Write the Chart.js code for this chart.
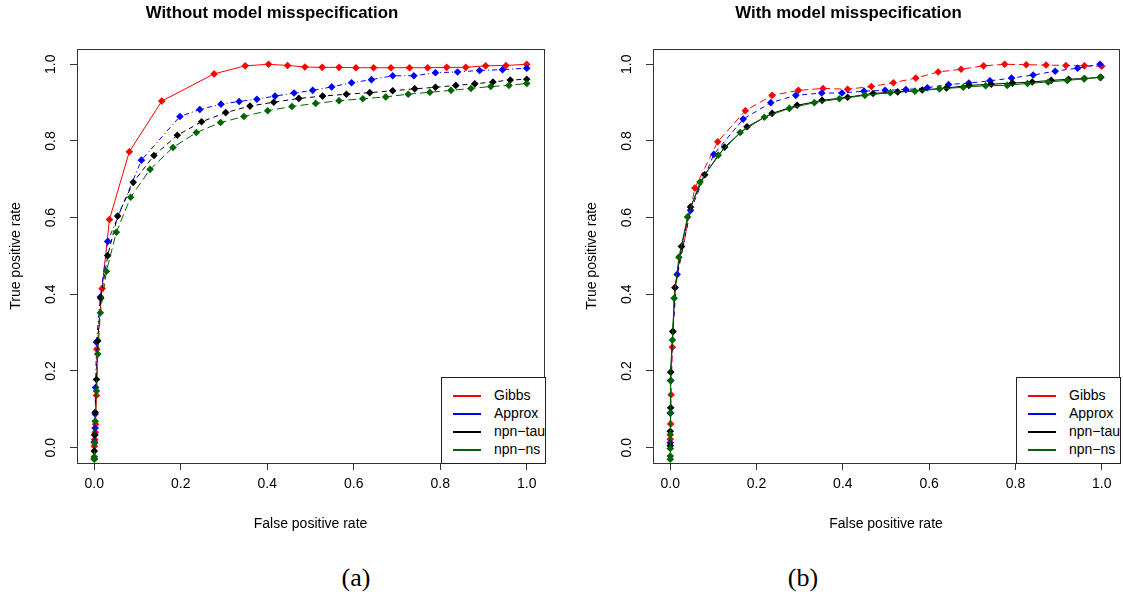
<!DOCTYPE html>
<html>
<head>
<meta charset="utf-8">
<script src="https://cdn.jsdelivr.net/npm/chart.js@4.4.1/dist/chart.umd.min.js"></script>
<style>
  body { margin: 0; background: #fff; width: 1123px; height: 596px; overflow: hidden; position: relative;
         font-family: "Liberation Sans", Arial, sans-serif; }
  canvas { position: absolute; top: 0; }
  #chartA { left: 0; }
  #chartB { left: 576px; }
  .legend { position: absolute; top: 377px; width: 103px; height: 85px; border: 1px solid #222;
            background: #fff; overflow: hidden; }
  .row { position: absolute; left: 11px; height: 18px; line-height: 18px; font-size: 14px; white-space: nowrap; color: #000; }
  .row i { display: inline-block; width: 28px; height: 2px; vertical-align: middle; margin-right: 13px; }
  .cap { position: absolute; top: 563px; width: 60px; text-align: center;
         font-family: "Liberation Serif", "DejaVu Serif", serif; font-size: 26px; color: #000; }
</style>
</head>
<body>
<canvas id="chartA" width="560" height="545"></canvas>
<canvas id="chartB" width="547" height="545"></canvas>
<div id="legA" class="legend" style="left:441px"></div>
<div id="legB" class="legend" style="left:1016px"></div>
<div class="cap" style="left:326px">(a)</div>
<div class="cap" style="left:773px">(b)</div>
<script>
const xTicks = [0, 0.2, 0.4, 0.6, 0.8, 1.0]
const yTicks = [0, 0.2, 0.4, 0.6, 0.8, 1.0]
const seriesNames = ['Gibbs', 'Approx', 'npn\u2212tau', 'npn\u2212ns']
const colors = ['#ff0000', '#0000ff', '#000000', '#006400']

// (a) without model misspecification
const fprA_gibbs = [0, 0.001, 0.002, 0.003, 0.005, 0.006, 0.018, 0.035, 0.081, 0.156, 0.277, 0.349, 0.403, 0.447, 0.487, 0.527, 0.566, 0.605, 0.646, 0.686, 0.729, 0.771, 0.815, 0.859, 0.905, 0.952, 1.0]
const tprA_gibbs = [0.004, 0.021, 0.040, 0.061, 0.136, 0.257, 0.415, 0.595, 0.772, 0.904, 0.975, 0.996, 1.0, 0.997, 0.993, 0.992, 0.992, 0.991, 0.991, 0.991, 0.991, 0.991, 0.992, 0.992, 0.996, 0.997, 1.0]
const fprA_approx = [0, 0.001, 0.002, 0.002, 0.003, 0.005, 0.014, 0.031, 0.109, 0.198, 0.244, 0.293, 0.335, 0.376, 0.418, 0.462, 0.505, 0.549, 0.595, 0.641, 0.69, 0.739, 0.789, 0.84, 0.891, 0.944, 1.0]
const tprA_approx = [0.015, 0.034, 0.051, 0.088, 0.157, 0.275, 0.393, 0.538, 0.75, 0.864, 0.882, 0.896, 0.903, 0.909, 0.917, 0.925, 0.932, 0.941, 0.952, 0.96, 0.97, 0.97, 0.978, 0.98, 0.984, 0.986, 0.99]
const fprA_tau = [0, 0, 0.001, 0.002, 0.005, 0.008, 0.015, 0.031, 0.054, 0.09, 0.138, 0.192, 0.248, 0.304, 0.36, 0.415, 0.473, 0.528, 0.583, 0.637, 0.69, 0.741, 0.789, 0.836, 0.88, 0.922, 0.962, 1.0]
const tprA_tau = [-0.029, -0.009, 0.033, 0.092, 0.178, 0.279, 0.39, 0.501, 0.604, 0.692, 0.762, 0.815, 0.85, 0.874, 0.891, 0.901, 0.911, 0.917, 0.922, 0.926, 0.931, 0.936, 0.94, 0.945, 0.949, 0.954, 0.959, 0.961]
const fprA_ns = [0, 0, 0.001, 0.002, 0.005, 0.008, 0.014, 0.028, 0.051, 0.084, 0.129, 0.182, 0.236, 0.292, 0.346, 0.401, 0.457, 0.512, 0.566, 0.621, 0.674, 0.726, 0.776, 0.825, 0.871, 0.917, 0.959, 1.0]
const tprA_ns = [-0.03, -0.024, 0.012, 0.069, 0.148, 0.244, 0.352, 0.46, 0.562, 0.653, 0.726, 0.783, 0.822, 0.848, 0.864, 0.879, 0.89, 0.898, 0.905, 0.91, 0.915, 0.922, 0.927, 0.932, 0.937, 0.942, 0.945, 0.95]

// (b) with model misspecification
const fprB_gibbs = [0, 0.001, 0.002, 0.005, 0.011, 0.057, 0.11, 0.174, 0.236, 0.297, 0.354, 0.411, 0.466, 0.517, 0.569, 0.621, 0.674, 0.726, 0.775, 0.825, 0.871, 0.917, 0.96, 1.0]
const tprB_gibbs = [0.022, 0.062, 0.138, 0.262, 0.418, 0.677, 0.798, 0.879, 0.919, 0.932, 0.937, 0.935, 0.942, 0.952, 0.964, 0.98, 0.987, 0.996, 1.0, 0.999, 0.998, 0.997, 0.996, 0.995]
const fprB_approx = [0, 0, 0.001, 0.006, 0.016, 0.047, 0.101, 0.169, 0.233, 0.291, 0.351, 0.398, 0.449, 0.498, 0.546, 0.596, 0.645, 0.692, 0.741, 0.791, 0.841, 0.892, 0.944, 0.996]
const tprB_approx = [0.013, 0.09, 0.175, 0.303, 0.452, 0.619, 0.765, 0.857, 0.9, 0.919, 0.925, 0.925, 0.93, 0.932, 0.934, 0.939, 0.947, 0.951, 0.957, 0.964, 0.972, 0.982, 0.99, 1.0]
const fprB_tau = [0, 0, 0.001, 0.001, 0.006, 0.011, 0.026, 0.047, 0.08, 0.126, 0.178, 0.236, 0.294, 0.352, 0.411, 0.47, 0.527, 0.584, 0.64, 0.692, 0.744, 0.793, 0.839, 0.883, 0.923, 0.96, 0.998]
const tprB_tau = [0.005, 0.043, 0.104, 0.197, 0.303, 0.417, 0.525, 0.628, 0.712, 0.784, 0.837, 0.872, 0.893, 0.906, 0.914, 0.924, 0.928, 0.933, 0.938, 0.945, 0.948, 0.951, 0.954, 0.958, 0.961, 0.963, 0.966]
const fprB_ns = [0, 0, 0, 0, 0.001, 0.001, 0.005, 0.009, 0.02, 0.04, 0.069, 0.111, 0.162, 0.218, 0.276, 0.334, 0.392, 0.451, 0.51, 0.567, 0.624, 0.679, 0.731, 0.781, 0.828, 0.876, 0.92, 0.959, 0.996]
const tprB_ns = [-0.03, -0.022, -0.002, 0.034, 0.091, 0.175, 0.281, 0.39, 0.497, 0.602, 0.693, 0.763, 0.822, 0.862, 0.885, 0.9, 0.91, 0.919, 0.926, 0.93, 0.936, 0.94, 0.944, 0.945, 0.95, 0.954, 0.958, 0.962, 0.966]

const FONT = '"Liberation Sans", Arial, sans-serif'

const toPoints = (xs, ys) => xs.map((x, i) => ({ x: x, y: ys[i] }))

// draw the R style box round the plot region
const plotBox = {
  id: 'plotBox',
  afterDraw(chart) {
    const { ctx, chartArea: a } = chart
    ctx.save()
    ctx.strokeStyle = '#333'
    ctx.lineWidth = 1
    ctx.strokeRect(Math.round(a.left) + 0.5, Math.round(a.top) + 0.5,
      Math.round(a.right - a.left), Math.round(a.bottom - a.top))
    ctx.restore()
  }
}

function makeChart(id, title, series, dashes, padRight) {
  const datasets = series.map((s, i) => ({
    label: seriesNames[i],
    data: toPoints(s[0], s[1]),
    showLine: true,
    borderColor: colors[i],
    backgroundColor: colors[i],
    borderWidth: 1,
    borderDash: dashes[i],
    pointStyle: 'rectRot',
    pointRadius: 3.8,
    pointBorderWidth: 0,
    order: 4 - i,
  }))

  return new Chart(document.getElementById(id), {
    type: 'scatter',
    data: { datasets },
    options: {
      responsive: false,
      animation: false,
      devicePixelRatio: 1,
      layout: { padding: { left: 0, top: 0, right: padRight, bottom: 0 } },
      plugins: {
        legend: { display: false },
        tooltip: { enabled: false },
        title: {
          display: true,
          text: title,
          color: '#000',
          font: { family: FONT, size: 16.8, weight: 'bold' },
          padding: { top: 3.4, bottom: 25.4 }
        }
      },
      scales: {
        x: {
          type: 'linear',
          min: -0.04,
          max: 1.04,
          afterBuildTicks: s => { s.ticks = xTicks.map(v => ({ value: v })) },
          afterFit: s => { s.height = 82 },
          grid: { drawOnChartArea: false, tickLength: 7, color: '#333' },
          border: { display: false },
          ticks: { color: '#000', font: { family: FONT, size: 14 }, padding: 6, callback: v => v.toFixed(1) },
          title: {
            display: true, text: 'False positive rate', color: '#000',
            font: { family: FONT, size: 14 }, padding: { top: 0, bottom: 12 }
          }
        },
        y: {
          type: 'linear',
          min: -0.04,
          max: 1.04,
          afterBuildTicks: s => { s.ticks = yTicks.map(v => ({ value: v })) },
          afterFit: s => { s.width = 77 },
          grid: { drawOnChartArea: false, tickLength: 7, color: '#333' },
          border: { display: false },
          ticks: {
            color: '#000', font: { family: FONT, size: 14 }, padding: 9,
            minRotation: 90, maxRotation: 90, crossAlign: 'center',
            callback: v => v.toFixed(1)
          },
          title: {
            display: true, text: 'True positive rate', color: '#000',
            font: { family: FONT, size: 14 }, padding: { top: 8, bottom: 0 }
          }
        }
      }
    },
    plugins: [plotBox]
  })
}

makeChart('chartA', 'Without model misspecification', [
  [fprA_gibbs, tprA_gibbs],
  [fprA_approx, tprA_approx],
  [fprA_tau, tprA_tau],
  [fprA_ns, tprA_ns],
], [[], [1, 3, 5, 3], [5, 4], [8, 4]], 16)

makeChart('chartB', 'With model misspecification', [
  [fprB_gibbs, tprB_gibbs],
  [fprB_approx, tprB_approx],
  [fprB_tau, tprB_tau],
  [fprB_ns, tprB_ns],
], [[7, 4], [5, 4], [], []], 2)

// legends in the bottom right corner of each plot
function fillLegend(id) {
  const box = document.getElementById(id)
  seriesNames.forEach((name, i) => {
    const row = document.createElement('div')
    row.className = 'row'
    row.style.top = (8 + i * 18) + 'px'
    row.innerHTML = '<i style="background:' + colors[i] + '"></i>' + name
    box.appendChild(row)
  })
}
fillLegend('legA')
fillLegend('legB')
</script>
</body>
</html>
